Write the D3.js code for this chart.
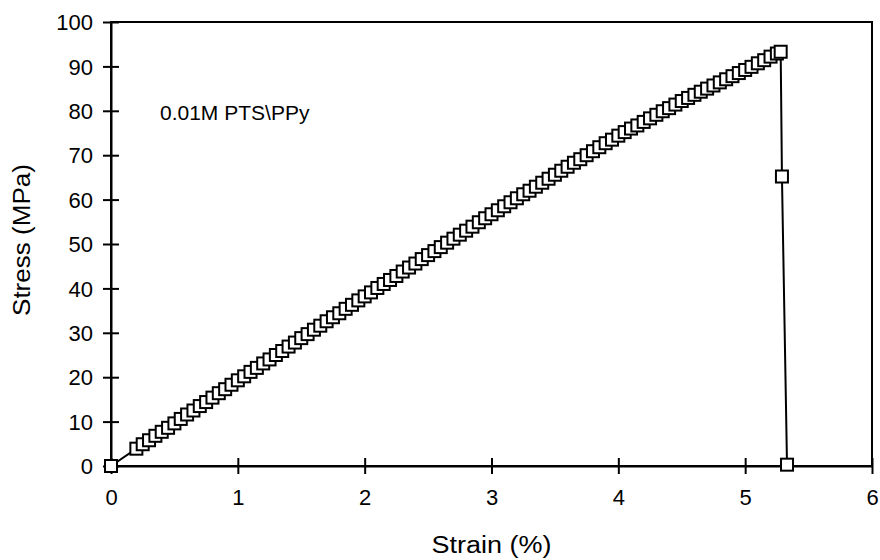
<!DOCTYPE html>
<html><head><meta charset="utf-8">
<script src="https://cdn.jsdelivr.net/npm/d3@7"></script>
<style>body{margin:0;background:#fff}svg{display:block}text{font-family:"Liberation Sans",Arial,sans-serif;fill:#000}</style>
</head><body><svg id="c" width="880" height="560"></svg>
<script>
const strain = [0,0.20,0.25,0.30,0.35,0.40,0.45,0.50,0.55,0.60,0.65,0.70,0.75,0.80,0.85,0.90,0.95,1.00,1.05,1.10,1.15,1.20,1.25,1.30,1.35,1.40,1.45,1.50,1.55,1.60,1.65,1.70,1.75,1.80,1.85,1.90,1.95,2.00,2.05,2.10,2.15,2.20,2.25,2.30,2.35,2.40,2.45,2.50,2.55,2.60,2.65,2.70,2.75,2.80,2.85,2.90,2.95,3.00,3.05,3.10,3.15,3.20,3.25,3.30,3.35,3.40,3.45,3.50,3.55,3.60,3.65,3.70,3.75,3.80,3.85,3.90,3.95,4.00,4.05,4.10,4.15,4.20,4.25,4.30,4.35,4.40,4.45,4.50,4.55,4.60,4.65,4.70,4.75,4.80,4.85,4.90,4.95,5.00,5.05,5.10,5.15,5.20,5.25,5.28,5.29,5.33];
const stress = [0,3.9,4.9,5.8,6.8,7.7,8.6,9.6,10.6,11.6,12.5,13.5,14.4,15.4,16.4,17.3,18.3,19.3,20.2,21.2,22.1,23.1,24.0,25.0,25.9,26.9,27.8,28.8,29.7,30.7,31.6,32.6,33.5,34.4,35.4,36.3,37.3,38.2,39.1,40.1,41.0,41.9,42.8,43.8,44.7,45.6,46.6,47.5,48.4,49.3,50.3,51.2,52.1,53.0,53.9,54.9,55.8,56.7,57.6,58.5,59.4,60.3,61.2,62.0,62.9,63.8,64.7,65.6,66.5,67.4,68.3,69.1,70.0,70.9,71.8,72.7,73.5,74.4,75.2,76.0,76.7,77.5,78.3,79.1,79.9,80.6,81.4,82.2,82.9,83.6,84.3,85.0,85.7,86.4,87.1,87.8,88.5,89.2,89.9,90.7,91.4,92.2,92.9,93.3,65.2,0.3];
const xTicks = [0,1,2,3,4,5,6];
const yTicks = [0,10,20,30,40,50,60,70,80,90,100];
const xLabel = "Strain (%)";
const yLabel = "Stress (MPa)";
const note = "0.01M PTS\\PPy";

const svg = d3.select("#c");
const L = 111, R = 872, T = 22, B = 466;
const x = d3.scaleLinear().domain([0,6]).range([L,R]);
const y = d3.scaleLinear().domain([0,100]).range([B,T]);
const data = strain.map((s,i)=>({s, v: stress[i]}));
const FF = "Liberation Sans, Arial, sans-serif";

svg.append("rect").attr("x",L).attr("y",T).attr("width",R-L).attr("height",B-T)
  .attr("fill","none").attr("stroke","#000").attr("stroke-width",2);

const xAxis = svg.append("g").attr("transform",`translate(0,${B})`)
  .call(d3.axisBottom(x).tickValues(xTicks).tickSize(0).tickPadding(0).tickFormat(d3.format("d")));
xAxis.select(".domain").attr("stroke","#000").attr("stroke-width",2);
xAxis.selectAll(".tick line").attr("y1",-8).attr("y2",8).attr("stroke","#000").attr("stroke-width",2);
xAxis.selectAll(".tick text").attr("y",39).attr("dy",0).attr("font-size",22).attr("font-family",FF);

const yAxis = svg.append("g").attr("transform",`translate(${L},0)`)
  .call(d3.axisLeft(y).tickValues(yTicks).tickSize(0).tickPadding(0).tickFormat(d3.format("d")));
yAxis.select(".domain").attr("stroke","#000").attr("stroke-width",2);
yAxis.selectAll(".tick line").attr("x1",-8).attr("x2",8).attr("stroke","#000").attr("stroke-width",2);
yAxis.selectAll(".tick text").attr("x",-18).attr("dy","0.35em").attr("font-size",22).attr("font-family",FF);

svg.append("path").datum(data)
  .attr("d", d3.line().x(d=>x(d.s)).y(d=>y(d.v)))
  .attr("fill","none").attr("stroke","#000").attr("stroke-width",2);

const m = 12;
svg.append("g").selectAll("rect").data(data).join("rect")
  .attr("x", d=>x(d.s)-m/2).attr("y", d=>y(d.v)-m/2)
  .attr("width", m).attr("height", m)
  .attr("fill","#fff").attr("stroke","#000").attr("stroke-width",2);

svg.append("text").attr("x",(L+R)/2).attr("y",553).attr("text-anchor","middle")
  .attr("font-size",23).attr("textLength",120).attr("lengthAdjust","spacingAndGlyphs").text(xLabel);
svg.append("text").attr("transform",`translate(30,240) rotate(-90)`).attr("text-anchor","middle")
  .attr("font-size",23).attr("textLength",152).attr("lengthAdjust","spacingAndGlyphs").text(yLabel);
svg.append("text").attr("x",160).attr("y",120).attr("font-size",21).text(note);
</script></body></html>
